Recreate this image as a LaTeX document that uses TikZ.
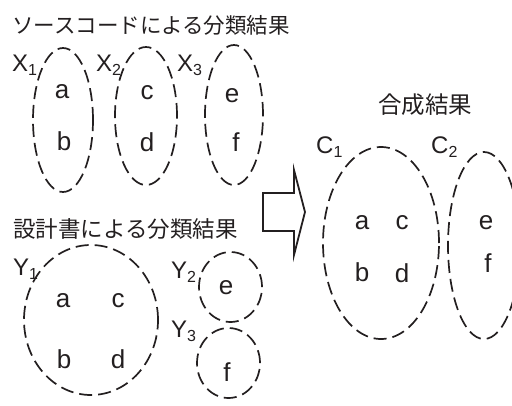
\documentclass[tikz,border=0pt]{standalone}
\usepackage{fontspec}
\setmainfont{Liberation Sans}
\newfontfamily\jpfont{Noto Sans CJK JP}
\newcommand\sublab[2]{#1\raisebox{-4pt}{\fontsize{16}{16}\selectfont #2}}
\definecolor{ink}{HTML}{231F20}
\begin{document}
\begin{tikzpicture}[x=1pt,y=-1pt,
  grp/.style={draw=ink, line width=1.7pt, dash pattern=on 13pt off 6pt},
  elem/.style={inner sep=0pt, text=ink, font=\fontsize{26}{26}\selectfont},
  lab/.style={inner sep=0pt, anchor=base west, text=ink, font=\fontsize{24}{24}\selectfont},
  ttl/.style={inner sep=0pt, text=ink, font=\jpfont\fontsize{22}{22}\selectfont},
  bigarrow/.style={draw=ink, line width=1.8pt, line join=miter, fill=white}]
\useasboundingbox (0,0) rectangle (512,405);

% titles
\node[ttl, anchor=west, font=\jpfont\fontsize{21.5}{21.5}\selectfont] (t1) at (12,25) {ソースコードによる分類結果};
\node[ttl, anchor=west, font=\jpfont\fontsize{22.5}{22.5}\selectfont] (t2) at (13,229) {設計書による分類結果};
\node[ttl, font=\jpfont\fontsize{23.5}{23.5}\selectfont] (t3) at (425,105) {合成結果};

% groups
\draw[grp] (63,120) ellipse [x radius=30pt, y radius=72pt];
\draw[grp] (146,116) ellipse [x radius=31pt, y radius=69pt];
\draw[grp] (234,115) ellipse [x radius=29pt, y radius=70pt];
\draw[grp] (91,320) ellipse [x radius=67pt, y radius=75pt];
\draw[grp] (230.5,287) ellipse [x radius=31.5pt, y radius=35pt];
\draw[grp] (228.5,363) ellipse [x radius=31.5pt, y radius=35pt];
\draw[grp] (381,243) ellipse [x radius=58pt, y radius=96pt];
\draw[grp] (484,245.5) ellipse [x radius=36pt, y radius=93.5pt];

% labels
\node[lab] (lx1) at (12,71) {\sublab{X}{1}};
\node[lab] (lx2) at (96,71) {\sublab{X}{2}};
\node[lab] (lx3) at (177,71) {\sublab{X}{3}};
\node[lab] (ly1) at (13,275) {\sublab{Y}{1}};
\node[lab] (ly2) at (171,278) {\sublab{Y}{2}};
\node[lab] (ly3) at (171,337) {\sublab{Y}{3}};
\node[lab] (lc1) at (316,153) {\sublab{C}{1}};
\node[lab] (lc2) at (431,153) {\sublab{C}{2}};

% elements X
\node[elem] (xa) at (62,92) {a};
\node[elem] (xb) at (64,141) {b};
\node[elem] (xc) at (147,93) {c};
\node[elem] (xd) at (147,142) {d};
\node[elem] (xe) at (232,96) {e};
\node[elem] (xf) at (236,142) {f};
% elements Y
\node[elem] (ya) at (63,301) {a};
\node[elem] (yc) at (118,301) {c};
\node[elem] (yb) at (64,359) {b};
\node[elem] (yd) at (118,359) {d};
\node[elem] (ye) at (226,288) {e};
\node[elem] (yf) at (227,372) {f};
% elements C
\node[elem] (ca) at (362,223) {a};
\node[elem] (cc) at (402,223) {c};
\node[elem] (cb) at (362,272) {b};
\node[elem] (cd) at (402,273) {d};
\node[elem] (ce) at (486,223) {e};
\node[elem] (cf) at (488,263) {f};

% block arrow
\draw[bigarrow] (263,193) -- (294,193) -- (294,170) -- (305,212) -- (294,255) -- (294,231) -- (263,231) -- cycle;
\end{tikzpicture}
\end{document}
